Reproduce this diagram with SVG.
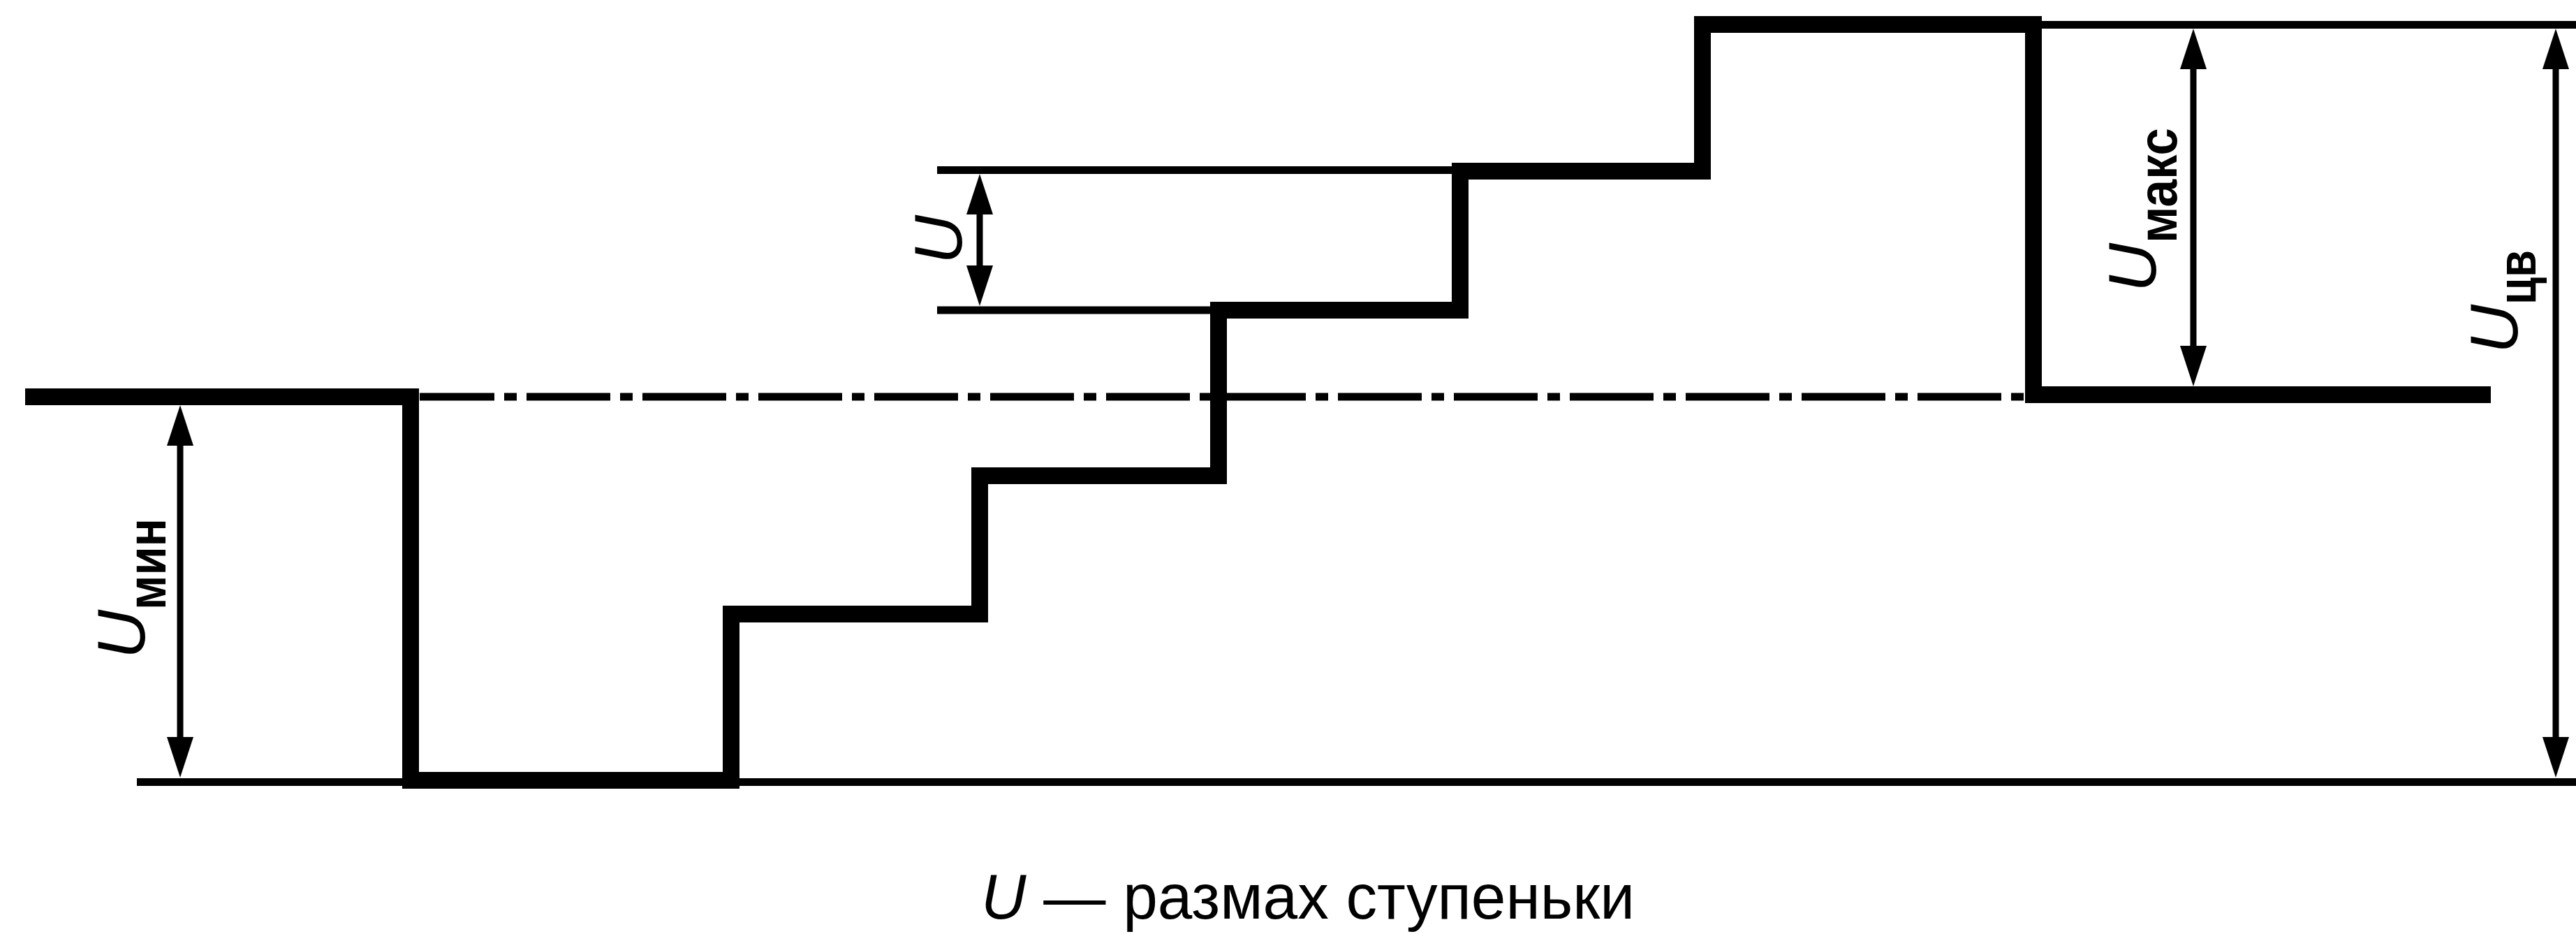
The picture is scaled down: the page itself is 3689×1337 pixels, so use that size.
<svg xmlns="http://www.w3.org/2000/svg" width="3689" height="1337" viewBox="0 0 3689 1337">
<style>
.thick{fill:none;stroke:#000;stroke-width:24;stroke-linejoin:miter;stroke-linecap:butt}
.thin{fill:none;stroke:#000;stroke-width:11;stroke-linecap:butt}
.axis{fill:none;stroke:#000;stroke-width:11;stroke-dasharray:120 14 18 14;stroke-dashoffset:13}
.dim{fill:none;stroke:#000;stroke-width:9;marker-start:url(#ah);marker-end:url(#ah)}
.sym{font-family:"Liberation Sans",Arial,sans-serif;font-style:italic;font-size:97px;fill:#000}
.sub{font-family:"Liberation Sans",Arial,sans-serif;font-weight:bold;font-size:78px;fill:#000}
.cap{font-family:"Liberation Sans",Arial,sans-serif;font-size:90px;fill:#000}
</style>
<defs>
<marker id="ah" viewBox="0 0 58 38" refX="38" refY="19" markerWidth="58" markerHeight="38" markerUnits="userSpaceOnUse" orient="auto-start-reverse">
<path d="M0,0 L58,19 L0,38 Z" fill="#000"/>
</marker>
</defs>
<g id="signal">
<path class="thick" d="M36,568 H588 V1117 H1047 V879 H1403 V681 H1745 V444 H2091 V245 H2438 V35 H2912 V565 H3567"/>
</g>
<g id="reference-lines">
<line class="axis" x1="601" y1="568" x2="2901" y2="568"/>
<line class="thin" x1="196" y1="1119.5" x2="3689" y2="1119.5"/>
<line class="thin" x1="1342" y1="243.5" x2="2079" y2="243.5"/>
<line class="thin" x1="1342" y1="444" x2="1733" y2="444"/>
<line class="thin" x1="2924" y1="35.5" x2="3689" y2="35.5"/>
</g>
<g id="connectors">
<line class="dim" x1="258" y1="600" x2="258" y2="1093"/>
<line class="dim" x1="1403" y1="269" x2="1403" y2="418"/>
<line class="dim" x1="3141" y1="61" x2="3141" y2="533"/>
<line class="dim" x1="3660" y1="61" x2="3660" y2="1093"/>
</g>
<g id="label-umin">
<text class="sym" transform="translate(207,943) rotate(-90)">U</text>
<text class="sub" transform="translate(237,873) rotate(-90)" textLength="131" lengthAdjust="spacingAndGlyphs">мин</text>
</g>
<g id="label-u">
<text class="sym" transform="translate(1377,378) rotate(-90)">U</text>
</g>
<g id="label-umax">
<text class="sym" transform="translate(3087,418) rotate(-90)">U</text>
<text class="sub" transform="translate(3117,348) rotate(-90)" textLength="165" lengthAdjust="spacingAndGlyphs">макс</text>
</g>
<g id="label-ucv">
<text class="sym" transform="translate(3605,506) rotate(-90)">U</text>
<text class="sub" transform="translate(3631,436) rotate(-90)" textLength="78" lengthAdjust="spacingAndGlyphs">цв</text>
</g>
<g id="caption">
<text class="cap" x="1405" y="1315" textLength="936" lengthAdjust="spacingAndGlyphs"><tspan font-style="italic">U</tspan> — размах ступеньки</text>
</g>
</svg>
